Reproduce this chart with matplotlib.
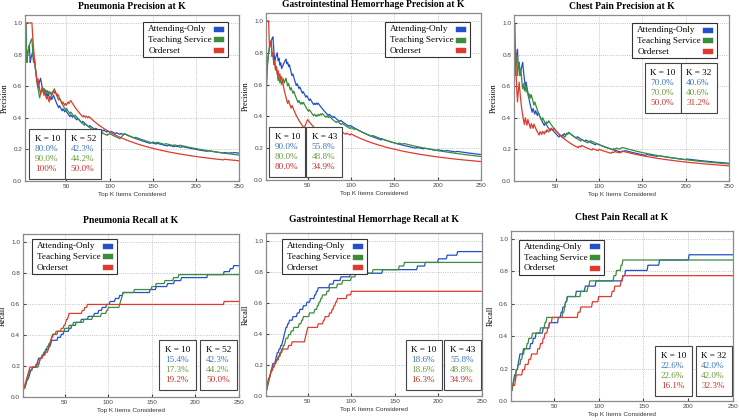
import numpy as np
import matplotlib
matplotlib.use('Agg')
from matplotlib import pyplot as plt
from matplotlib.patches import Rectangle
from matplotlib.offsetbox import AnchoredOffsetbox, VPacker, TextArea

plt.rcParams['font.family'] = 'sans-serif'
plt.rcParams['font.sans-serif'] = ['Liberation Sans', 'DejaVu Sans']
plt.rcParams['font.serif'] = ['Liberation Serif', 'DejaVu Serif']

series_names = ['Attending-Only', 'Teaching Service', 'Orderset']
line_colors = ['#2350c8', '#3b8c3b', '#dd3b2e']
text_colors = ['#3a76b8', '#6a9c38', '#cc3030']

# ranks (1-based) at which a relevant item shows up in each ranked list
pneumonia_attending = [1, 2, 3, 5, 6, 7, 9, 10, 11, 13, 18, 19, 20, 24, 27, 29, 32, 34, 35, 42,
                       46, 49, 55, 58, 63, 69, 77, 84, 89, 93, 98, 102, 108, 113, 117, 148,
                       155, 168, 176, 184, 214, 233, 240, 244]
pneumonia_teaching = [1, 2, 3, 5, 6, 7, 8, 9, 10, 13, 20, 21, 22, 24, 26, 28, 30, 32, 34, 35,
                      36, 42, 50, 55, 60, 72, 82, 92, 98, 100, 113, 114, 115, 116, 117, 130,
                      150, 155, 165, 175, 181]
pneumonia_orderset = [1, 2, 3, 4, 5, 6, 7, 8, 9, 10, 17, 21, 22, 25, 28, 31, 32, 33, 34, 35,
                      37, 40, 46, 49, 51, 52, 54, 55, 70, 73, 76, 233]
pneumonia_total = 52

gi_attending = [1, 3, 4, 5, 6, 7, 8, 9, 10, 13, 14, 15, 17, 19, 21, 22, 23, 24, 25, 27, 29,
                33, 38, 41, 45, 49, 53, 58, 60, 62, 75, 80, 88, 99, 136, 176, 185, 200, 210, 222]
gi_teaching = [2, 3, 4, 5, 6, 7, 8, 10, 12, 14, 17, 19, 21, 22, 24, 25, 28, 31, 34, 40, 43,
               45, 52, 58, 61, 63, 65, 67, 72, 75, 84, 90, 100, 105, 125, 155, 161]
gi_orderset = [1, 2, 3, 4, 5, 7, 8, 10, 12, 14, 16, 18, 20, 28, 32, 47, 48, 49, 50, 62, 68,
               70, 75, 78, 80, 82, 84, 95, 100]
gi_total = 43

chest_attending = [1, 2, 4, 5, 6, 8, 10, 11, 12, 16, 24, 27, 30, 38, 45, 55, 58, 60, 63, 65,
                   75, 85, 97, 127, 130, 155, 168, 201]
chest_teaching = [1, 2, 4, 5, 7, 8, 10, 13, 15, 17, 20, 22, 26, 35, 40, 42, 60, 62, 63, 65,
                  80, 88, 90, 117, 120, 125, 127]
chest_orderset = [1, 2, 3, 7, 8, 15, 18, 22, 25, 32, 35, 38, 40, 43, 45, 48, 77, 80, 93, 100,
                  115, 118, 125, 127]
chest_total = 31

# annotation boxes (as printed on the figure)
pneumonia_k = ['K = 10', 'K = 52']
pneumonia_prec_vals = [['80.0%', '90.0%', '100%'], ['42.3%', '44.2%', '50.0%']]
pneumonia_rec_vals = [['15.4%', '17.3%', '19.2%'], ['42.3%', '44.2%', '50.0%']]
gi_k = ['K = 10', 'K = 43']
gi_prec_vals = [['90.0%', '80.0%', '80.0%'], ['55.8%', '48.8%', '34.9%']]
gi_rec_vals = [['18.6%', '18.6%', '16.3%'], ['55.8%', '48.8%', '34.9%']]
chest_k = ['K = 10', 'K = 32']
chest_prec_vals = [['70.0%', '70.0%', '50.0%'], ['40.6%', '40.6%', '31.2%']]
chest_rec_vals = [['22.6%', '22.6%', '16.1%'], ['42.0%', '42.0%', '32.3%']]

max_k = 250
W, H = 739.0, 420.0


def curves(hits, total):
	k = np.arange(1, max_k + 1)
	found = np.zeros(max_k)
	found[np.array(hits) - 1] = 1
	cum = np.cumsum(found)
	return k, cum / k, cum / total


def k_box(ax, header, values, x, y, loc):
	rows = [TextArea(header, textprops=dict(family='serif', size=6.6, color='black'))]
	for v, c in zip(values, text_colors):
		rows.append(TextArea(v, textprops=dict(family='serif', size=6.6, color=c)))
	pack = VPacker(children=rows, align='left', pad=0, sep=1.6)
	box = AnchoredOffsetbox(loc=loc, child=pack, pad=0.4, borderpad=0, frameon=True,
	                        bbox_to_anchor=(x, y), bbox_transform=ax.transAxes)
	box.patch.set_edgecolor('#444444')
	box.patch.set_linewidth(0.8)
	ax.add_artist(box)


def legend_box(ax, left, top, axw, axh):
	# text on the left, colour swatch on the right, sizes in pixels
	bw, bh = 85.0, 35.0
	x0 = left
	y0 = top
	ax.add_patch(Rectangle((x0, y0 - bh / axh), bw / axw, bh / axh, transform=ax.transAxes,
	                       facecolor='white', edgecolor='#333333', lw=0.8, zorder=5))
	for i, (name, c) in enumerate(zip(series_names, line_colors)):
		yc = y0 - (7.3 + 10.7 * i) / axh
		ax.text(x0 + 5 / axw, yc, name, transform=ax.transAxes, family='serif', size=6.6,
		        va='center', ha='left', zorder=6)
		ax.add_patch(Rectangle((x0 + (bw - 14) / axw, yc - 2.5 / axh), 10 / axw, 5 / axh,
		                       transform=ax.transAxes, facecolor=c, edgecolor=c, lw=0.3, zorder=6))


def panel(rect, title, ylabel, series, total, metric, leg_pos,
          ks, vals, box_pos, box_loc, title_pad):
	l, t, r, b = rect
	ax = fig.add_axes([l / W, 1 - b / H, (r - l) / W, (b - t) / H])
	axw, axh = r - l, b - t

	for hits, c in zip(series, line_colors):
		k, prec, rec = curves(hits, total)
		ax.plot(k, prec if metric == 'p' else rec, color=c, lw=0.9)

	ax.set_xlim(2, 250)
	ax.set_ylim(0, 1.05)
	ax.set_xticks([50, 100, 150, 200, 250])
	ax.set_yticks([0, 0.2, 0.4, 0.6, 0.8, 1.0])
	ax.grid(True, linestyle=':', color='#b0b0b0', lw=0.6)
	ax.tick_params(labelsize=4.6, colors='#444444', length=2, direction='in', pad=2)
	for s in ax.spines.values():
		s.set_color('#8a8a8a')
		s.set_linewidth(0.9)

	ax.set_title(title, family='serif', weight='bold', size=6.9, pad=title_pad)
	ax.set_xlabel('Top K Items Considered', size=4.6, color='#333333', labelpad=2)
	ax.set_ylabel(ylabel, family='serif', size=5.8, labelpad=3)

	legend_box(ax, leg_pos[0], leg_pos[1], axw, axh)

	k_box(ax, ks[0], vals[0], box_pos[0][0], box_pos[0][1], box_loc)
	k_box(ax, ks[1], vals[1], box_pos[1][0], box_pos[1][1], box_loc)


fig = plt.figure(figsize=(7.39, 4.2), dpi=100)

panel((25, 15, 239, 181), 'Pneumonia Precision at K', 'Precision',
      [pneumonia_attending, pneumonia_teaching, pneumonia_orderset], pneumonia_total, 'p',
      (0.553, 0.958), pneumonia_k, pneumonia_prec_vals,
      [(0.02, 0.012), (0.187, 0.012)], 'lower left', 4)
panel((266, 13, 481, 180), 'Gastrointestinal Hemorrhage Precision at K', 'Precision',
      [gi_attending, gi_teaching, gi_orderset], gi_total, 'p',
      (0.553, 0.946), gi_k, gi_prec_vals,
      [(0.014, 0.018), (0.186, 0.018)], 'lower left', 4)
panel((514, 15, 729, 181), 'Chest Pain Precision at K', 'Precision',
      [chest_attending, chest_teaching, chest_orderset], chest_total, 'p',
      (0.55, 0.952), chest_k, chest_prec_vals,
      [(0.777, 0.71), (0.944, 0.71)], 'upper right', 4)

panel((23, 234, 239, 397), 'Pneumonia Recall at K', 'Recall',
      [pneumonia_attending, pneumonia_teaching, pneumonia_orderset], pneumonia_total, 'r',
      (0.042, 0.97), pneumonia_k, pneumonia_rec_vals,
      [(0.80, 0.043), (0.99, 0.043)], 'lower right', 8)
panel((266, 233, 482, 396), 'Gastrointestinal Hemorrhage Recall at K', 'Recall',
      [gi_attending, gi_teaching, gi_orderset], gi_total, 'r',
      (0.074, 0.963), gi_k, gi_rec_vals,
      [(0.815, 0.037), (0.995, 0.037)], 'lower right', 8)
panel((511, 231, 733, 401), 'Chest Pain Recall at K', 'Recall',
      [chest_attending, chest_teaching, chest_orderset], chest_total, 'r',
      (0.036, 0.95), chest_k, chest_rec_vals,
      [(0.815, 0.03), (0.995, 0.03)], 'lower right', 8)

plt.savefig('out.png', dpi=100)
